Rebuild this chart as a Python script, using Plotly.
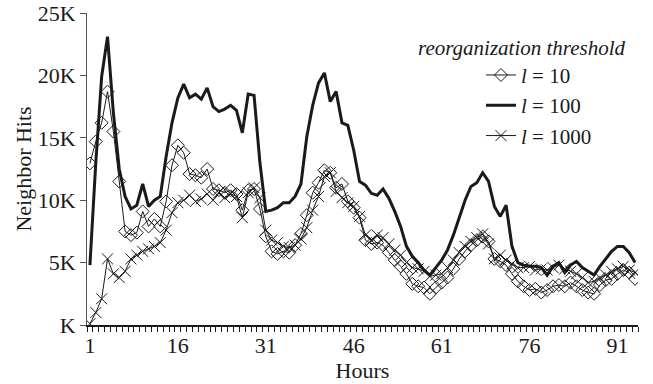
import plotly.graph_objects as go

hours = list(range(1, 95))

l10 = [12.95, 14.7, 16.2, 18.7, 15.5, 11.5, 7.5, 7.2, 7.4, 9.1,
       7.9, 8.5, 7.9, 9.9, 12.8, 14.4, 13.8, 12.1, 12.0, 11.8,
       12.5, 10.9, 10.8, 10.6, 10.8, 10.5, 9.2, 10.8, 10.9, 9.3,
       7.1, 5.9, 5.7, 5.9, 5.8, 6.4, 7.3, 8.8, 10.6, 11.4,
       12.4, 12.2, 11.0, 11.3, 9.9, 9.4, 8.6, 6.8, 6.5, 6.6,
       6.4, 5.8, 5.2, 4.7, 4.1, 3.3, 3.1, 3.0, 2.5, 3.0,
       3.4, 3.8, 4.5, 5.3, 5.9, 6.4, 6.8, 7.1, 6.7, 5.3,
       5.1, 4.8, 4.1, 3.5, 3.1, 2.8, 2.9, 2.6, 2.8, 3.1,
       3.2, 3.1, 3.4, 3.1, 2.8, 2.6, 2.5, 3.2, 3.6, 3.7,
       4.1, 4.4, 4.2, 3.7]

l100 = [4.8, 13.0, 19.9, 23.1, 17.0, 12.5, 10.3, 9.3, 9.6, 11.3,
        9.5, 10.0, 10.3, 13.5, 16.2, 18.2, 19.3, 18.2, 18.5, 18.1,
        19.0, 17.5, 17.1, 17.3, 17.6, 17.2, 15.4, 18.5, 18.4, 13.0,
        9.1, 9.2, 9.4, 9.8, 9.8, 10.3, 11.3, 15.1, 17.6, 19.4,
        20.2, 17.9, 18.7, 16.2, 16.0, 14.0, 11.5, 11.2, 10.55, 10.4,
        10.9, 10.15, 9.1, 7.9, 6.3, 5.5, 5.0, 4.4, 4.0, 4.6,
        5.2, 6.0, 7.2, 8.6, 10.0, 11.1, 11.4, 12.2, 11.5, 9.5,
        8.7, 9.6, 6.3, 5.0, 4.8, 4.7, 4.7, 4.6, 4.0, 4.7,
        5.0, 4.2, 4.8, 5.1, 4.6, 4.3, 4.0, 4.7, 5.3, 5.9,
        6.3, 6.3, 5.8, 5.0]

l1000 = [0.1, 1.0, 2.1, 5.3, 4.1, 3.8, 4.3, 5.3, 5.6, 5.9,
         6.1, 6.3, 6.6, 7.6, 9.0, 9.8, 10.0, 10.4, 9.9, 10.1,
         10.5, 10.0, 10.6, 10.2, 10.5, 10.3, 8.6, 10.6, 11.0, 10.2,
         7.6, 6.8, 6.6, 6.3, 6.2, 6.4, 6.9, 7.8, 9.2, 10.3,
         11.9, 12.2, 10.7, 10.2, 9.8, 9.5, 8.7, 7.2, 6.8, 7.2,
         7.0, 6.5, 6.0, 5.6, 5.0, 4.6, 4.5, 4.3, 3.9, 4.0,
         4.1, 4.6, 5.2, 5.8, 6.3, 6.7, 7.0, 7.3, 6.5, 5.3,
         5.6, 5.2, 4.9, 4.6, 4.6, 4.7, 4.4, 4.5, 4.4, 4.6,
         4.8, 4.5, 4.3, 4.1, 3.8, 3.4, 3.5, 3.8, 4.0, 4.3,
         4.5, 4.7, 4.4, 4.2]

y_ticks = [0, 5000, 10000, 15000, 20000, 25000]
y_tick_text = ["K", "5K", "10K", "15K", "20K", "25K"]
x_ticks = [1, 16, 31, 46, 61, 76, 91]
x_tick_text = [str(v) for v in x_ticks]

ink = "#1a1a1a"
serif = "Liberation Serif, Times New Roman, serif"

fig = go.Figure()
fig.add_trace(go.Scatter(
    x=hours, y=[v * 1000 for v in l10], mode="lines+markers",
    name="<i>l</i> = 10",
    line=dict(color=ink, width=1),
    marker=dict(symbol="diamond-open", size=10, color=ink, line=dict(width=1, color=ink)),
))
fig.add_trace(go.Scatter(
    x=hours, y=[v * 1000 for v in l100], mode="lines",
    name="<i>l</i> = 100",
    line=dict(color=ink, width=3),
))
fig.add_trace(go.Scatter(
    x=hours, y=[v * 1000 for v in l1000], mode="lines+markers",
    name="<i>l</i> = 1000",
    line=dict(color=ink, width=1),
    marker=dict(symbol="x-thin-open", size=11, color=ink, line=dict(width=1, color=ink)),
))

fig.update_layout(
    width=653, height=384,
    margin=dict(l=87, r=15, t=13, b=59, autoexpand=False),
    paper_bgcolor="white", plot_bgcolor="white",
    font=dict(family=serif, size=22, color=ink),
    showlegend=True,
    legend=dict(x=0.715, y=0.866, xanchor="left", yanchor="top",
                bgcolor="rgba(0,0,0,0)", font=dict(family=serif, size=21, color=ink),
                tracegroupgap=0),
    xaxis=dict(
        range=[0.5, 94.5], showgrid=False, zeroline=False, automargin=False,
        showline=True, linecolor=ink, linewidth=1.5,
        tickmode="array", tickvals=x_ticks, ticktext=x_tick_text, ticks="",
        tickfont=dict(family=serif, size=22),
        ticklabelstandoff=0,
        minor=dict(tickmode="linear", tick0=0.5, dtick=1, ticks="outside",
                   ticklen=5, tickwidth=1, tickcolor=ink, showgrid=False),
        title=dict(text="Hours", font=dict(family=serif, size=22), standoff=2),
    ),
    yaxis=dict(
        range=[0, 25000], showgrid=False, zeroline=False, automargin=False,
        showline=True, linecolor="#555555", linewidth=1,
        tickmode="array", tickvals=y_ticks, ticktext=y_tick_text,
        ticks="outside", ticklen=6, tickcolor="#555555",
        tickfont=dict(family=serif, size=22),
        title=dict(text="Neighbor Hits", font=dict(family=serif, size=22), standoff=0),
    ),
    annotations=[dict(
        text="<i>reorganization threshold</i>", xref="paper", yref="paper",
        x=0.79, y=0.888, xanchor="center", yanchor="middle", showarrow=False,
        font=dict(family=serif, size=21, color=ink),
    )],
)

fig.write_html("out.html")
